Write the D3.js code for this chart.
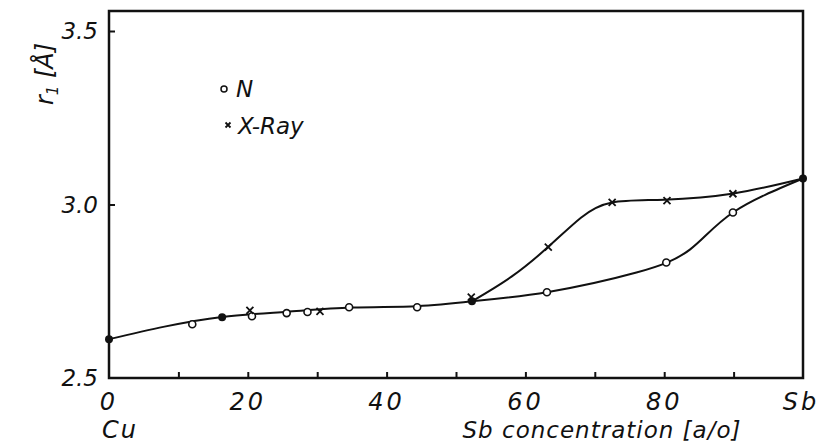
<!DOCTYPE html>
<html lang="en">
<head>
<meta charset="UTF-8"/>
<title>r1 vs Sb concentration</title>
<script src="https://cdn.jsdelivr.net/npm/d3@7"></script>
<style>
  body { margin: 0; background: #fff; }
  text { font-family: "DejaVu Sans", sans-serif; font-style: italic; fill: #111; }
</style>
</head>
<body>
<script>
// points
var nX = [12, 20.6, 25.6, 28.6, 34.6, 44.4, 63.1, 80.3, 89.9];
var nY = [2.655, 2.678, 2.687, 2.690, 2.704, 2.704, 2.747, 2.833, 2.977];
var xrayX = [20.3, 30.4, 52.2, 63.3, 72.5, 80.4, 89.9];
var xrayY = [2.695, 2.692, 2.733, 2.877, 3.006, 3.011, 3.031];
var bothX = [0, 16.3, 52.3, 100];
var bothY = [2.612, 2.675, 2.721, 3.075];

// drawn curves
var mainX = [0, 8, 16.3, 25.6, 35, 44.4, 52.3];
var mainY = [2.612, 2.648, 2.676, 2.691, 2.703, 2.707, 2.721];
var lowX = [52.3, 63.3, 76, 83.7, 89.9, 100];
var lowY = [2.721, 2.748, 2.804, 2.870, 2.977, 3.075];
var upX = [52.3, 58, 63.3, 68, 72.5, 80, 90, 100];
var upY = [2.721, 2.792, 2.878, 2.962, 3.006, 3.014, 3.032, 3.075];

var xTicks = [10, 20, 30, 40, 50, 60, 70, 80, 90];
var xLabels = [0, 20, 40, 60, 80];
var yTicks = [3.0, 3.5];
var yLabels = ["2.5", "3.0", "3.5"];

var w = 824, h = 447;
var mLeft = 109, mRight = 803, mTop = 11, mBottom = 378;

var svg = d3.select("body").append("svg")
  .attr("width", w)
  .attr("height", h);

var x = d3.scaleLinear().domain([0, 100]).range([mLeft, mRight]);
var y = d3.scaleLinear().domain([2.5, 3.5]).range([mBottom, 31]);

// frame
svg.append("rect")
  .attr("x", mLeft).attr("y", mTop)
  .attr("width", mRight - mLeft).attr("height", mBottom - mTop)
  .attr("fill", "none").attr("stroke", "#111").attr("stroke-width", 2.5);

// inward ticks
svg.append("g")
  .attr("transform", "translate(0," + mBottom + ")")
  .call(d3.axisTop(x).tickValues(xTicks).tickSize(6).tickFormat(""))
  .call(function(g) { g.select(".domain").remove(); g.selectAll("line").attr("stroke", "#111").attr("stroke-width", 2); });

svg.append("g")
  .attr("transform", "translate(" + mLeft + ",0)")
  .call(d3.axisRight(y).tickValues(yTicks).tickSize(6).tickFormat(""))
  .call(function(g) { g.select(".domain").remove(); g.selectAll("line").attr("stroke", "#111").attr("stroke-width", 2); });

// tick labels
svg.selectAll("text.xl")
  .data(xLabels)
  .enter().append("text")
  .attr("class", "xl")
  .attr("x", function(d) { return x(d); })
  .attr("y", 410)
  .attr("text-anchor", "middle")
  .attr("font-size", 24)
  .attr("letter-spacing", 3)
  .text(function(d) { return d; });

svg.append("text").attr("x", x(100) - 2).attr("y", 410).attr("text-anchor", "middle")
  .attr("font-size", 24).attr("letter-spacing", 3).text("Sb");
svg.append("text").attr("x", x(0) + 11).attr("y", 438).attr("text-anchor", "middle")
  .attr("font-size", 24).attr("letter-spacing", 2).text("Cu");
svg.append("text").attr("x", 602).attr("y", 438).attr("text-anchor", "middle")
  .attr("font-size", 23).attr("letter-spacing", 1).text("Sb concentration [a/o]");

svg.selectAll("text.yl")
  .data(yLabels)
  .enter().append("text")
  .attr("class", "yl")
  .attr("x", 98)
  .attr("y", function(d) { return y(+d) + 8; })
  .attr("text-anchor", "end")
  .attr("font-size", 23)
  .text(function(d) { return d; });

// y axis title
var yt = svg.append("text")
  .attr("transform", "translate(53,74) rotate(-90)")
  .attr("text-anchor", "middle")
  .attr("font-size", 24);
yt.append("tspan").text("r");
yt.append("tspan").attr("font-size", 15).attr("dy", 5).text("1");
yt.append("tspan").attr("dy", -5).text(" [Å]");

// curves
var line = d3.line()
  .x(function(d) { return x(d[0]); })
  .y(function(d) { return y(d[1]); })
  .curve(d3.curveNatural);

[[mainX, mainY], [lowX, lowY], [upX, upY]].forEach(function(c) {
  svg.append("path")
    .datum(d3.zip(c[0], c[1]))
    .attr("d", line)
    .attr("fill", "none")
    .attr("stroke", "#111")
    .attr("stroke-width", 2);
});

// markers
svg.selectAll("circle.n")
  .data(d3.zip(nX, nY))
  .enter().append("circle")
  .attr("class", "n")
  .attr("cx", function(d) { return x(d[0]); })
  .attr("cy", function(d) { return y(d[1]); })
  .attr("r", 3.5)
  .attr("fill", "#fff")
  .attr("stroke", "#111")
  .attr("stroke-width", 1.6);

function cross(sel, cx, cy, s) {
  sel.append("path")
    .attr("d", "M" + (cx - s) + "," + (cy - s) + "L" + (cx + s) + "," + (cy + s) +
               "M" + (cx - s) + "," + (cy + s) + "L" + (cx + s) + "," + (cy - s))
    .attr("stroke", "#111")
    .attr("stroke-width", 1.8);
}

d3.zip(xrayX, xrayY).forEach(function(d) {
  cross(svg, x(d[0]), y(d[1]), 3.5);
});

svg.selectAll("circle.b")
  .data(d3.zip(bothX, bothY))
  .enter().append("circle")
  .attr("class", "b")
  .attr("cx", function(d) { return x(d[0]); })
  .attr("cy", function(d) { return y(d[1]); })
  .attr("r", 4)
  .attr("fill", "#111");

// legend
svg.append("circle").attr("cx", 224).attr("cy", 89).attr("r", 3)
  .attr("fill", "#fff").attr("stroke", "#111").attr("stroke-width", 1.5);
svg.append("text").attr("x", 236).attr("y", 97).attr("font-size", 23).text("N");
cross(svg, 228, 125, 2.5);
svg.append("text").attr("x", 238).attr("y", 134).attr("font-size", 23).text("X-Ray");
</script>
</body>
</html>
